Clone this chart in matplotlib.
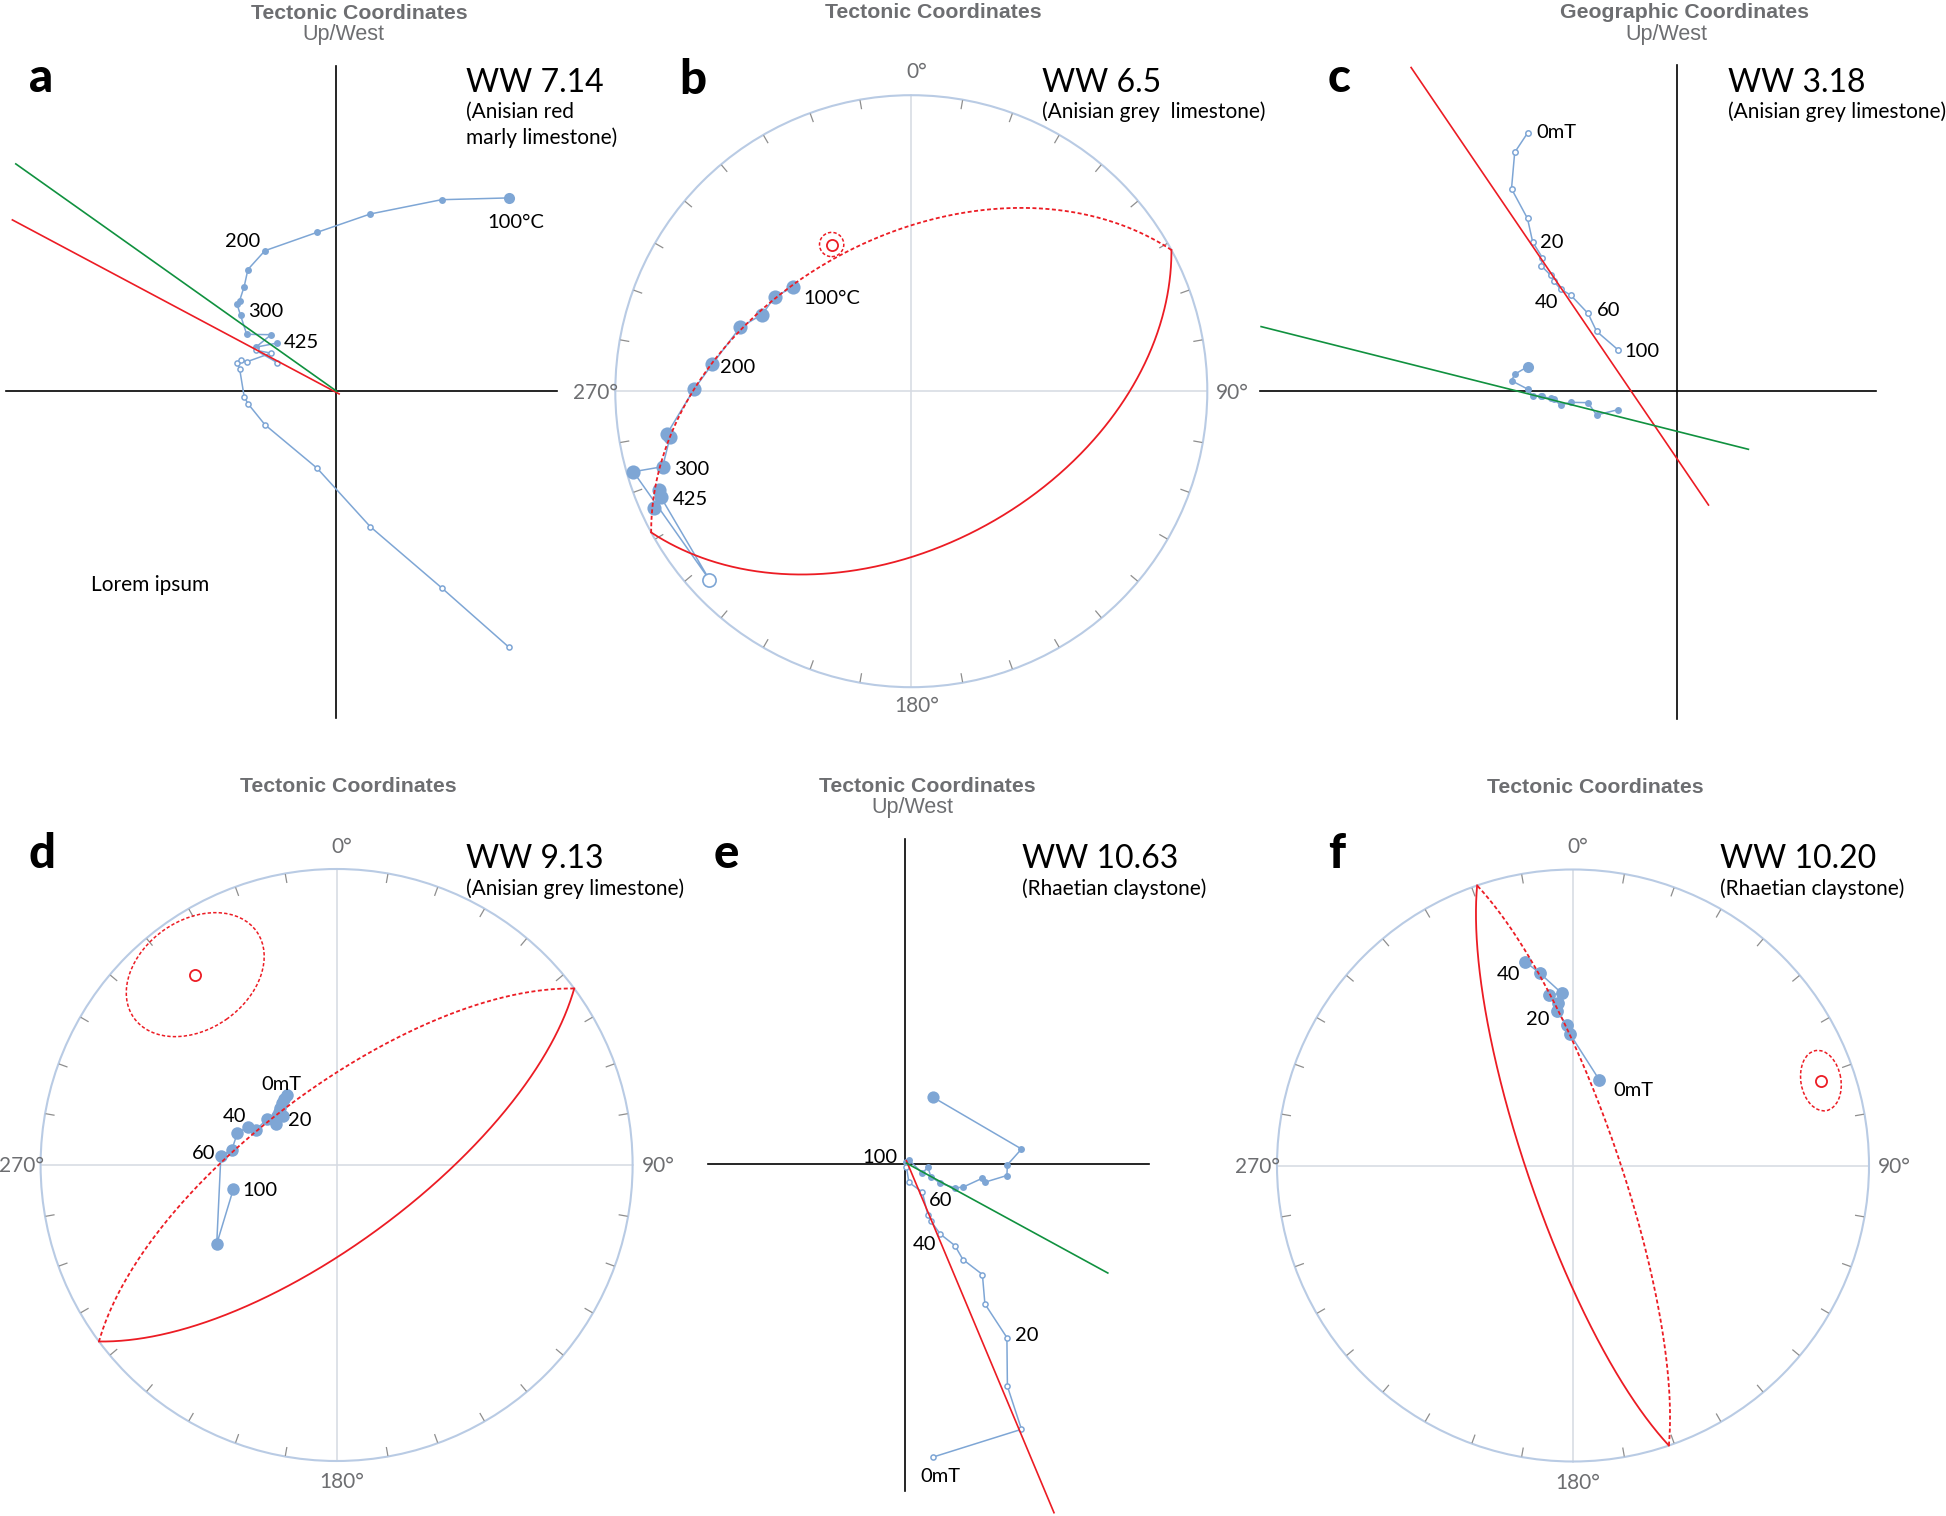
import numpy as np
import matplotlib
matplotlib.use("Agg")
import matplotlib.pyplot as plt
from matplotlib.patches import Circle, Ellipse

# ---------------- data ----------------
# (a) WW 7.14 - orthogonal vector plot (arbitrary intensity units), thermal steps
a_x = [173.3, 105.7, 34.4, -18.6, -70.9, -87.9, -91.6, -96.2, -98.7, -95.3, -89.1, -64.7, -80.0, -58.4]
a_h = [193.3, 191.5, 177.2, 158.9, 140.5, 121.7, 104.7, 90.5, 86.8, 76.0, 56.9, 56.5, 44.0, 48.2]
a_v = [-256.2, -196.5, -135.4, -77.1, -33.5, -12.4, -5.5, 22.5, 28.5, 31.7, 29.4, 38.1, 40.9, 28.5]
a_fit_red_x = [-323.4, 3.3]
a_fit_red_y = [171.3, -2.7]
a_fit_green_x = [-320.0, 0.8]
a_fit_green_y = [227.3, 0.0]
a_step_labels = ["100°C", "200", "300", "425"]

# (b) WW 6.5 - equal-area projection, net radius = 1 (East, North)
b_x = [-0.400, -0.462, -0.504, -0.578, -0.672, -0.733, -0.826, -0.815, -0.840, -0.939, -0.682, -0.846, -0.852, -0.868]
b_y = [0.352, 0.318, 0.259, 0.216, 0.092, 0.008, -0.145, -0.154, -0.255, -0.272, -0.637, -0.358, -0.334, -0.396]
b_upper = [False] * 10 + [True] + [False] * 3
b_pole = (331.5, 43.0)          # declination, inclination of great-circle pole
b_a95 = 0.041
b_step_labels = ["100°C", "200", "300", "425"]

# (c) WW 3.18 - orthogonal vector plot, AF steps
c_x = [-149.9, -162.7, -165.9, -149.9, -144.7, -135.0, -136.2, -126.9, -123.9, -116.6, -106.8, -89.4, -80.8, -59.5]
c_h = [24.1, 16.5, 10.1, 1.8, -4.9, -4.9, -5.7, -7.5, -8.5, -14.2, -11.5, -11.9, -24.2, -18.9]
c_v = [257.7, 238.4, 202.0, 172.3, 148.7, 133.1, 125.1, 115.7, 110.0, 101.5, 95.8, 77.4, 59.5, 41.1]
c_fit_red_x = [-266.3, 31.1]
c_fit_red_y = [323.3, -114.2]
c_fit_green_x = [-416.3, 71.0]
c_fit_green_y = [64.2, -58.5]
c_step_labels = ["0mT", "20", "40", "60", "100"]

# (d) WW 9.13 - equal-area projection
d_x = [-0.169, -0.178, -0.185, -0.191, -0.194, -0.182, -0.200, -0.205, -0.236, -0.273, -0.298, -0.335, -0.354, -0.391, -0.405, -0.349]
d_y = [0.236, 0.222, 0.208, 0.192, 0.180, 0.166, 0.166, 0.139, 0.154, 0.118, 0.129, 0.109, 0.051, 0.030, -0.267, -0.082]
d_pole = (323.4, 21.0)
d_ellipse = (0.507, 0.368, 35.0)   # full axes (net units) and orientation
d_step_labels = ["0mT", "20", "40", "60", "100"]

# (e) WW 10.63 - orthogonal vector plot, AF steps
e_x = [27.7, 116.6, 102.5, 102.0, 80.0, 77.5, 58.0, 50.0, 35.3, 25.9, 23.0, 17.4, 4.0, 1.5]
e_h = [67.0, 15.0, -0.8, -11.5, -18.2, -14.2, -23.2, -23.8, -19.2, -12.5, -3.2, -9.2, 4.2, 2.0]
e_v = [-293.2, -265.3, -222.3, -173.6, -139.9, -110.5, -95.5, -81.6, -70.0, -57.0, -51.2, -28.0, -18.4, -2.5]
e_fit_red_x = [1.5, 149.1]
e_fit_red_y = [3.3, -348.7]
e_fit_green_x = [1.5, 202.9]
e_fit_green_y = [0.9, -109.0]
e_step_labels = ["100", "60", "40", "20", "0mT"]

# (f) WW 10.20 - equal-area projection
f_x = [0.089, -0.010, -0.021, -0.055, -0.050, -0.080, -0.038, -0.111, -0.162]
f_y = [0.289, 0.444, 0.475, 0.522, 0.548, 0.576, 0.582, 0.649, 0.689]
f_pole = (71.1, 12.5)
f_ellipse = (0.206, 0.135, 100.0)
f_step_labels = ["0mT", "20", "40"]

# ---------------- style ----------------
BLUE = "#7ea6d5"
RED = "#ec1c24"
GREEN = "#10913f"
NET = "#b9cbe4"
CROSS = "#d5dae2"
TICKC = "#8e8e8e"
GRAY = "#6d6e71"
LBL = ["Lato", "DejaVu Sans"]
TTL = ["Liberation Sans", "DejaVu Sans"]

W, H = 1946, 1516
fig = plt.figure(figsize=(W / 100, H / 100), dpi=100)
fig.patch.set_facecolor("white")


def T(X, Y, s, size, ha="left", va="baseline", color="black", weight="normal", family=LBL):
    fig.text(X / W, 1 - Y / H, s, fontsize=size, ha=ha, va=va, color=color,
             fontweight=weight, family=family)


def make_ax(ox, oy, scale, box):
    l, t, r, b = box
    ax = fig.add_axes([l / W, 1 - b / H, (r - l) / W, (b - t) / H])
    ax.set_xlim((l - ox) / scale, (r - ox) / scale)
    ax.set_ylim((oy - b) / scale, (oy - t) / scale)
    ax.set_axis_off()
    return ax


def zijderveld(ax, x, h, v, hx, vy, ms_big, ms_f, ms_o):
    ax.plot(hx, [0, 0], color="black", lw=1.2, zorder=2)
    ax.plot([0, 0], vy, color="black", lw=1.2, zorder=2)
    ax.plot(x, h, color=BLUE, lw=1.1, zorder=3)
    ax.plot(x[1:], h[1:], "o", ms=ms_f, color=BLUE, mec="none", zorder=4)
    ax.plot(x[:1], h[:1], "o", ms=ms_big, color=BLUE, mec="none", zorder=4)
    ax.plot(x, v, color=BLUE, lw=1.1, zorder=3)
    ax.plot(x, v, "o", ms=ms_o, mfc="white", mec=BLUE, mew=1.1, zorder=4)


def dir2cart(dec, inc):
    d, i = np.radians(dec), np.radians(inc)
    return np.array([np.cos(i) * np.cos(d), np.cos(i) * np.sin(d), np.sin(i)])


def eqarea(v):
    n, e, dn = v
    inc = np.arcsin(np.clip(np.abs(dn), 0, 1))
    dec = np.arctan2(e, n)
    r = np.sqrt(2) * np.sin((np.pi / 2 - inc) / 2)
    return r * np.sin(dec), r * np.cos(dec)


def great_circle(ax, pdec, pinc):
    p = dir2cart(pdec, pinc)
    a = np.cross(p, [0.0, 0.0, 1.0])
    a /= np.linalg.norm(a)
    b = np.cross(p, a)
    b /= np.linalg.norm(b)
    if b[2] < 0:
        b = -b
    t = np.linspace(0, np.pi, 500)
    v = np.outer(a, np.cos(t)) + np.outer(b, np.sin(t))
    x, y = eqarea(v)
    ax.plot(x, y, color=RED, lw=1.3, zorder=5)
    ax.plot(-x, -y, color=RED, lw=1.3, zorder=5, dashes=(2.2, 1.4))
    px, py = eqarea(p[:, None])
    return px[0], py[0]


def stereonet(ax):
    ax.plot([-1, 1], [0, 0], color=CROSS, lw=1.1, zorder=1)
    ax.plot([0, 0], [-1, 1], color=CROSS, lw=1.1, zorder=1)
    ax.add_patch(Circle((0, 0), 1, fill=False, ec=NET, lw=1.5, zorder=2))
    tick = 9 / 296
    for az in range(10, 360, 10):
        if az % 90 == 0:
            continue
        t = np.radians(az)
        ax.plot([np.sin(t) * (1 - 0.004), np.sin(t) * (1 - tick)],
                [np.cos(t) * (1 - 0.004), np.cos(t) * (1 - tick)], color=TICKC, lw=0.9, zorder=2)


def degree_labels(cx, cy, R, top_base, bot_base):
    T(cx + 5, top_base, "0°", 15, ha="center", color=GRAY)
    T(cx + R + 9, cy + 7.5, "90°", 15, ha="left", color=GRAY)
    T(cx + 5, bot_base, "180°", 15, ha="center", color=GRAY)
    T(cx - R + 3, cy + 7.5, "270°", 15, ha="right", color=GRAY)


# ---------------- panel a ----------------
ax = make_ax(335.8, 391.2, 1.0, (0, 40, 600, 740))
zijderveld(ax, a_x, a_h, a_v, [-330, 221], [-326.8, 325.5], 8.0, 5.0, 3.7)
ax.plot(a_fit_red_x, a_fit_red_y, color=RED, lw=1.2, zorder=6)
ax.plot(a_fit_green_x, a_fit_green_y, color=GREEN, lw=1.2, zorder=6)
for s, (X, Y, ha) in zip(a_step_labels, [(516.2, 227.5, "center"), (242.5, 247.3, "center"),
                                        (265.8, 317.1, "center"), (301.8, 347.9, "center")]):
    T(X, Y, s, 14.5, ha=ha)
T(150.2, 591, "Lorem ipsum", 15, ha="center")

# ---------------- panel b ----------------
R = 296.0
ax = make_ax(911.3, 391.2, R, (600, 70, 1225, 710))
stereonet(ax)
ax.plot(b_x, b_y, color=BLUE, lw=1.1, zorder=3)
bx, by, bu = np.array(b_x), np.array(b_y), np.array(b_upper)
ax.plot(bx[~bu], by[~bu], "o", ms=10.2, color=BLUE, mec="none", zorder=4)
ax.plot(bx[bu], by[bu], "o", ms=9.5, mfc="white", mec=BLUE, mew=1.2, zorder=4)
px, py = great_circle(ax, *b_pole)
ax.plot(px, py, "o", ms=8, mfc="none", mec=RED, mew=1.3, zorder=6)
ax.add_patch(Circle((px, py), b_a95, fill=False, ec=RED, lw=1.1, ls=(0, (2.2, 1.4)), zorder=6))
for s, (X, Y) in zip(b_step_labels, [(803, 304.2), (719.6, 373.2), (673.7, 474.6), (672.8, 505.4)]):
    T(X, Y, s, 14.5)
degree_labels(911.3, 391.2, R, 78.5, 712.3)

# ---------------- panel c ----------------
ax = make_ax(1677.4, 390.8, 1.0, (1240, 40, 1946, 740))
zijderveld(ax, c_x, c_h, c_v, [-417.2, 198.4], [-327.9, 326.1], 8.0, 5.0, 3.9)
ax.plot(c_fit_red_x, c_fit_red_y, color=RED, lw=1.2, zorder=6)
ax.plot(c_fit_green_x, c_fit_green_y, color=GREEN, lw=1.2, zorder=6)
for s, (X, Y, ha) in zip(c_step_labels, [(1536.3, 138.4, "left"), (1551.8, 247.9, "center"),
                                        (1546.5, 307.8, "center"), (1608.6, 316.3, "center"),
                                        (1641.5, 356.9, "center")]):
    T(X, Y, s, 14.5, ha=ha)

# ---------------- panel d ----------------
ax = make_ax(336.6, 1165.0, R, (20, 850, 655, 1490))
stereonet(ax)
ax.plot(d_x, d_y, color=BLUE, lw=1.1, zorder=3)
ax.plot(d_x, d_y, "o", ms=9.0, color=BLUE, mec="none", zorder=4)
px, py = great_circle(ax, *d_pole)
ax.plot(px, py, "o", ms=8, mfc="none", mec=RED, mew=1.3, zorder=6)
ax.add_patch(Ellipse((px, py), d_ellipse[0], d_ellipse[1], angle=d_ellipse[2], fill=False,
                     ec=RED, lw=1.1, ls=(0, (2.2, 1.4)), zorder=6))
for s, (X, Y) in zip(d_step_labels, [(281.7, 1089.9), (300, 1125.5), (235, 1122.2), (204, 1158.9), (260, 1196.2)]):
    T(X, Y, s, 14.5, ha="center")
degree_labels(336.6, 1165.0, R, 853.3, 1488.3)

# ---------------- panel e ----------------
ax = make_ax(904.9, 1164.0, 1.0, (690, 820, 1180, 1516))
zijderveld(ax, e_x, e_h, e_v, [-196.7, 244.4], [-327.4, 325.4], 8.8, 5.0, 3.7)
ax.plot(e_fit_red_x, e_fit_red_y, color=RED, lw=1.2, zorder=6)
ax.plot(e_fit_green_x, e_fit_green_y, color=GREEN, lw=1.2, zorder=6)
for s, (X, Y) in zip(e_step_labels, [(880, 1162.6), (941, 1206), (924.1, 1250.3), (1026.6, 1341), (940.4, 1482.2)]):
    T(X, Y, s, 14.5, ha="center")

# ---------------- panel f ----------------
ax = make_ax(1573.0, 1165.5, R, (1260, 850, 1890, 1490))
stereonet(ax)
ax.plot(f_x, f_y, color=BLUE, lw=1.1, zorder=3)
ax.plot(f_x, f_y, "o", ms=9.2, color=BLUE, mec="none", zorder=4)
px, py = great_circle(ax, *f_pole)
ax.plot(px, py, "o", ms=8, mfc="none", mec=RED, mew=1.3, zorder=6)
ax.add_patch(Ellipse((px, py), f_ellipse[0], f_ellipse[1], angle=f_ellipse[2], fill=False,
                     ec=RED, lw=1.1, ls=(0, (2.2, 1.4)), zorder=6))
for s, (X, Y, ha) in zip(f_step_labels, [(1613, 1096.5, "left"), (1537.8, 1025.2, "center"), (1508.3, 980.3, "center")]):
    T(X, Y, s, 14.5, ha=ha)
degree_labels(1573.0, 1165.5, R, 853.3, 1489.3)

# ---------------- titles and headers ----------------
for X, Y, s in [(359.2, 19.3, "Tectonic Coordinates"), (933.7, 17.6, "Tectonic Coordinates"),
                (1685.0, 17.9, "Geographic Coordinates"), (348.2, 791.8, "Tectonic Coordinates"),
                (927.1, 791.8, "Tectonic Coordinates"), (1595.1, 792.8, "Tectonic Coordinates")]:
    T(X, Y, s, 15.3, ha="center", color=GRAY, weight="bold", family=TTL)
for X, Y in [(343.7, 40.4), (1666.8, 40.1), (912.2, 813.0)]:
    T(X, Y, "Up/West", 15.5, ha="center", color=GRAY, family=TTL)

for X, Y, s in [(40.6, 91.8, "a"), (693.3, 94.1, "b"), (1339.5, 92.0, "c"),
                (41.7, 868.5, "d"), (726.1, 868.5, "e"), (1336.8, 868.5, "f")]:
    T(X, Y, s, 34, ha="center", weight="black")

headers = [
    (466.4, 91.8, "WW 7.14", ["(Anisian red", "marly limestone)"]),
    (1042.0, 91.8, "WW 6.5", ["(Anisian grey  limestone)"]),
    (1728.5, 92.0, "WW 3.18", ["(Anisian grey limestone)"]),
    (466.5, 868.5, "WW 9.13", ["(Anisian grey limestone)"]),
    (1021.6, 868.5, "WW 10.63", ["(Rhaetian claystone)"]),
    (1719.5, 868.5, "WW 10.20", ["(Rhaetian claystone)"]),
]
for X, Y, s, subs in headers:
    T(X, Y, s, 23)
    for k, sub in enumerate(subs):
        T(X, Y + 26.5 + 25.2 * k, sub, 15)

fig.savefig("out.png", dpi=100, facecolor="white")
